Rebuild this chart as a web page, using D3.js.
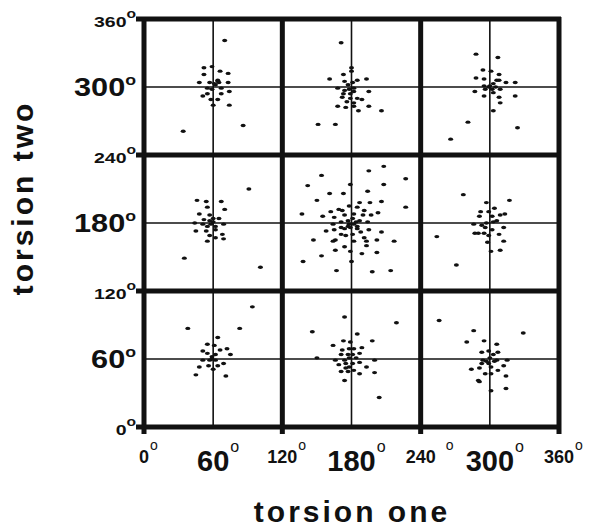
<!DOCTYPE html>
<meta charset="utf-8">
<style>
body { margin: 0; background: #fff; }
text { font-family: "Liberation Sans", Arial, Helvetica, sans-serif; fill: #111; }
</style>
<body>
<script src="https://cdn.jsdelivr.net/npm/d3@7"></script>
<script>
// tick values (degrees)
var ticks = [0, 60, 120, 180, 240, 300, 360];
var centerTicks = [60, 180, 300];     // big labels + thin lines
var boxTicks = [0, 120, 240, 360];     // thick lines

// [torsion one, torsion two] per cell
var cell_60_300 = [[70,341],[52,317],[59,318],[66,314],[73,312],[52,311],[48,304],[57,304],[64,306],[65,304],
  [73,304],[62,302],[55,299],[59,298],[67,299],[74,296],[55,294],[51,292],[67,294],[58,289],[64,289],[60,284],
  [74,284],[34,261],[86,266],[61,303],[64,305]];
var cell_180_300 = [[171,339],[180,317],[180,314],[173,311],[161,307],[174,305],[181,304],[185,306],[193,307],
  [168,299],[174,297],[178,298],[182,299],[182,296],[195,296],[172,291],[179,290],[185,290],[189,289],[176,287],
  [182,286],[168,283],[175,282],[182,283],[195,283],[186,279],[206,279],[151,267],[166,267],[177,302],[179,294],[173,294]];
var cell_300_300 = [[288,329],[307,326],[294,315],[301,314],[308,311],[288,308],[295,307],[306,306],[308,306],
  [314,304],[322,304],[295,301],[300,301],[303,303],[287,296],[296,298],[302,298],[309,298],[303,295],[295,292],
  [308,291],[322,292],[309,286],[303,279],[281,269],[324,264],[266,254],[299,300],[305,300]];
var cell_60_180 = [[91,210],[46,200],[54,199],[67,199],[55,194],[70,192],[48,188],[57,187],[65,184],[52,183],
  [60,184],[44,180],[51,179],[58,179],[69,179],[55,177],[62,177],[45,173],[54,173],[62,174],[68,170],[57,169],
  [62,167],[69,166],[55,164],[35,149],[101,141],[60,181],[57,182]];
var cell_180_180 = [[208,230],[195,226],[227,219],[154,222],[142,213],[179,214],[208,214],[194,208],[161,206],
  [173,206],[150,200],[187,198],[196,198],[206,199],[227,194],[137,188],[169,192],[178,195],[185,194],[162,190],
  [172,191],[191,191],[155,186],[165,185],[174,187],[182,188],[190,187],[197,187],[203,189],[164,179],[171,181],
  [177,182],[181,184],[187,182],[194,181],[158,173],[165,174],[174,175],[179,176],[185,177],[195,174],[206,172],
  [171,170],[181,170],[188,172],[166,165],[175,169],[191,167],[147,165],[164,164],[182,164],[193,164],[202,165],
  [217,164],[174,159],[193,160],[166,156],[179,155],[202,154],[154,151],[189,153],[180,146],[138,146],[167,138],
  [198,137],[214,138],[178,179],[182,179],[177,177],[184,181],[185,175],[171,176]];
var cell_300_180 = [[277,205],[317,200],[297,198],[304,193],[292,190],[299,190],[313,188],[291,186],[302,186],
  [309,187],[286,179],[293,178],[297,180],[303,181],[312,176],[287,171],[295,171],[302,174],[308,170],[299,169],
  [298,163],[312,164],[301,155],[309,156],[254,168],[271,143],[306,182],[296,176],[290,171]];
var cell_60_60 = [[94,106],[38,87],[83,87],[64,79],[55,73],[61,72],[51,67],[55,65],[66,68],[72,69],[75,64],
  [62,64],[59,62],[51,59],[57,59],[62,59],[69,56],[48,53],[56,54],[64,54],[60,51],[45,46],[71,45],[59,60]];
var cell_180_60 = [[174,97],[146,84],[219,92],[185,82],[164,72],[173,76],[179,75],[198,76],[189,70],[172,68],
  [178,69],[182,69],[187,65],[171,64],[177,64],[181,64],[166,59],[174,59],[178,61],[184,61],[200,59],[150,61],
  [169,55],[175,56],[181,56],[187,57],[193,53],[171,49],[177,49],[182,50],[187,47],[200,48],[174,41],[204,26],
  [178,53],[175,52]];
var cell_300_60 = [[256,94],[286,85],[329,83],[280,75],[295,76],[306,73],[293,66],[299,67],[307,66],[303,64],
  [294,59],[300,61],[306,59],[315,59],[293,56],[299,56],[284,51],[291,52],[301,53],[307,50],[312,54],[296,47],
  [301,47],[314,45],[290,41],[291,40],[301,32],[314,34],[297,58],[304,58]];

var points = [].concat(cell_60_300, cell_180_300, cell_300_300, cell_60_180, cell_180_180,
  cell_300_180, cell_60_60, cell_180_60, cell_300_60);

var width = 589, height = 529;

var x = d3.scaleLinear().domain([0, 360]).range([144, 559]);
var y = d3.scaleLinear().domain([0, 360]).range([427, 19]);

var svg = d3.select("body").append("svg")
    .attr("width", width)
    .attr("height", height);

// thin center lines
svg.selectAll(".vthin").data(centerTicks).enter().append("line")
    .attr("x1", function(d) { return x(d); }).attr("x2", function(d) { return x(d); })
    .attr("y1", y(360)).attr("y2", y(0))
    .attr("stroke", "#111").attr("stroke-width", 1.6);
svg.selectAll(".hthin").data(centerTicks).enter().append("line")
    .attr("y1", function(d) { return y(d); }).attr("y2", function(d) { return y(d); })
    .attr("x1", x(0)).attr("x2", x(360))
    .attr("stroke", "#111").attr("stroke-width", 1.6);

// thick box lines, with little stubs sticking out left and below
svg.selectAll(".vthick").data(boxTicks).enter().append("line")
    .attr("x1", function(d) { return x(d); }).attr("x2", function(d) { return x(d); })
    .attr("y1", y(360) - 2).attr("y2", y(0) + 7)
    .attr("stroke", "#111").attr("stroke-width", 5);
svg.selectAll(".hthick").data(boxTicks).enter().append("line")
    .attr("y1", function(d) { return y(d); }).attr("y2", function(d) { return y(d); })
    .attr("x1", x(0) - 8).attr("x2", x(360) + 2)
    .attr("stroke", "#111").attr("stroke-width", 5);

// dots
svg.selectAll(".dot").data(points).enter().append("ellipse")
    .attr("cx", function(d) { return x(d[0]); })
    .attr("cy", function(d) { return y(d[1]); })
    .attr("rx", 2.5).attr("ry", 1.7)
    .attr("fill", "#111");

// y tick labels (stretched a bit horizontally, like the scan)
ticks.forEach(function(v) {
  var big = centerTicks.indexOf(v) >= 0;
  var g = svg.append("g")
      .attr("transform", "translate(136," + (y(v) + (big ? 9 : 8)) + ") scale(" + (big ? 1.18 : 1.3) + ",1)");
  var t = g.append("text").attr("text-anchor", "end").attr("font-weight", "bold")
      .attr("font-size", big ? 26 : 15);
  t.append("tspan").text(v);
  t.append("tspan").text("o").attr("font-size", big ? 15 : 12)
      .attr("dy", big ? -11 : -9);
});

// x tick labels
ticks.forEach(function(v) {
  var big = centerTicks.indexOf(v) >= 0;
  var base = big ? 471 : 463;
  var num = svg.append("text").attr("x", x(v)).attr("y", base)
      .attr("text-anchor", "middle").attr("font-weight", "bold")
      .attr("font-size", big ? 29 : 18).text(v);
  var w = num.node().getComputedTextLength();
  var gap = v === 240 ? 10 : 1; // the "240 °" label has a gap in the original
  svg.append("text").attr("x", x(v) + w / 2 + gap).attr("y", base - (big ? 19 : 13))
      .attr("font-size", big ? 16 : 14).text("o");
});

// axis titles
svg.append("text")
    .attr("transform", "translate(33,198) rotate(-90)")
    .attr("text-anchor", "middle").attr("font-weight", "bold")
    .attr("font-size", 30).attr("letter-spacing", 3)
    .text("torsion two");

svg.append("text")
    .attr("x", 352).attr("y", 522)
    .attr("text-anchor", "middle").attr("font-weight", "bold")
    .attr("font-size", 30).attr("letter-spacing", 3)
    .text("torsion one");
</script>
</body>
